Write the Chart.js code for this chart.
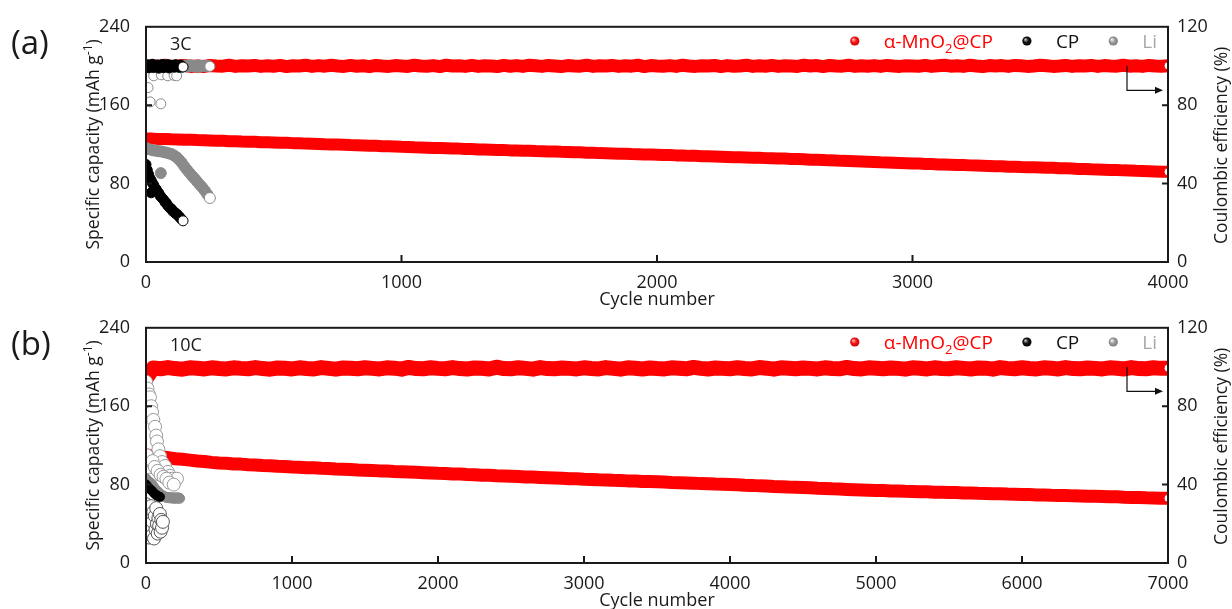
<!DOCTYPE html>
<html><head><meta charset="utf-8">
<script src="https://cdn.jsdelivr.net/npm/chart.js@4.4.1/dist/chart.umd.min.js"></script>
<style>
html,body{margin:0;padding:0;background:#fff;}
#wrap{position:relative;width:1232px;height:609px;overflow:hidden;background:#fff;}
#ca{position:absolute;left:0;top:0;}
#cb{position:absolute;left:0;top:301px;}
</style></head>
<body>
<div id="wrap">
<canvas id="ca" width="1232" height="312"></canvas>
<canvas id="cb" width="1232" height="308"></canvas>
</div>
<script>
// ---------------- DATA: panel (a), 3C ----------------
const xTicksA = [0, 1000, 2000, 3000, 4000];
const capTicks = [0, 80, 160, 240];
const ceTicks = [0, 40, 80, 120];

const cyclesA = [
0,25,50,75,100,125,150,175,200,225,250,275,300,325,350,375,400,425,450,475,500,
525,550,575,600,625,650,675,700,725,750,775,800,825,850,875,900,925,950,975,1000,
1025,1050,1075,1100,1125,1150,1175,1200,1225,1250,1275,1300,1325,1350,1375,1400,1425,1450,1475,1500,
1525,1550,1575,1600,1625,1650,1675,1700,1725,1750,1775,1800,1825,1850,1875,1900,1925,1950,1975,2000,
2025,2050,2075,2100,2125,2150,2175,2200,2225,2250,2275,2300,2325,2350,2375,2400,2425,2450,2475,2500,
2525,2550,2575,2600,2625,2650,2675,2700,2725,2750,2775,2800,2825,2850,2875,2900,2925,2950,2975,3000,
3025,3050,3075,3100,3125,3150,3175,3200,3225,3250,3275,3300,3325,3350,3375,3400,3425,3450,3475,3500,
3525,3550,3575,3600,3625,3650,3675,3700,3725,3750,3775,3800,3825,3850,3875,3900,3925,3950,3975,4000];

const mnCapA = [
126.0,125.9,125.5,125.5,125.2,125.1,124.7,124.7,124.4,124.3,124.0,123.8,123.7,123.3,123.3,122.9,122.8,122.6,122.3,122.3,122.0,
121.7,121.6,121.3,121.2,120.8,120.7,120.5,120.1,120.0,119.8,119.6,119.3,119.2,118.9,118.7,118.6,118.2,118.1,117.8,117.5,
117.4,117.0,116.9,116.7,116.4,116.3,116.0,115.7,115.7,115.3,115.2,114.9,114.8,114.6,114.3,114.2,113.9,113.8,113.6,113.5,
113.2,113.1,112.8,112.7,112.4,112.3,111.9,111.9,111.6,111.5,111.1,111.0,110.8,110.5,110.4,110.1,110.0,109.8,109.6,109.5,
109.2,109.1,108.8,108.7,108.3,108.3,108.0,107.8,107.6,107.5,107.2,107.0,106.8,106.7,106.3,106.3,106.0,105.8,105.6,105.5,
105.2,105.0,104.8,104.4,104.3,104.0,103.7,103.6,103.2,103.1,102.8,102.5,102.3,102.1,101.7,101.6,101.3,101.0,100.8,100.5,
100.4,100.0,99.9,99.6,99.5,99.3,98.9,98.9,98.6,98.4,98.2,98.0,97.7,97.7,97.3,97.2,96.9,96.8,96.6,96.5,
96.2,96.1,95.7,95.6,95.4,95.0,94.9,94.6,94.5,94.2,93.9,93.8,93.5,93.4,93.0,92.9,92.7,92.4,92.2,92.0];

const mnCeA = [
99.8,100.2,99.9,100.4,99.7,100.1,100.3,99.8,100.0,99.7,100.3,100.0,99.9,100.4,99.8,100.1,100.0,100.3,99.8,100.1,99.9,
100.3,99.7,100.1,100.0,100.4,99.8,100.2,99.9,100.4,100.0,99.8,100.3,99.9,100.1,99.7,100.3,100.0,99.8,100.2,100.0,
99.8,100.4,100.0,99.9,100.2,99.7,100.4,100.0,100.1,99.8,100.3,99.8,100.1,100.0,99.7,100.3,99.9,100.2,99.8,100.4,
100.1,99.8,100.3,100.0,99.7,100.2,100.0,99.9,100.4,99.8,100.1,100.0,100.3,99.8,100.1,99.9,100.4,99.7,100.2,100.0,
99.9,100.2,99.8,100.4,100.0,99.8,100.1,100.0,100.3,99.7,100.2,99.9,100.0,100.4,99.8,100.1,99.9,100.3,99.8,100.1,
100.0,99.8,100.4,100.0,100.2,99.7,100.3,100.0,99.9,100.4,99.8,100.1,99.9,100.2,99.8,100.3,100.0,99.8,100.1,100.0,
99.9,100.3,99.8,100.1,100.4,99.9,100.1,99.8,100.4,100.0,99.7,100.2,100.0,100.2,99.8,100.3,100.1,99.8,100.0,100.4,
100.1,99.8,100.0,100.3,99.8,100.1,100.0,100.3,99.8,100.2,100.0,99.9,100.4,99.9,100.1,99.8,100.3,100.0,99.9,100.1];

const cpCapCycA = [20,0,5,10,15,20,25,30,35,40,45,50,55,60,65,70,75,80,85,90,95,100,105,110,115,120,125,130,135,140,145];
const cpCapA = [70.6,99.5,93.8,89.6,85.7,83.4,80.6,78.5,75.7,74.3,71.6,70.4,67.6,66.3,64.6,63.2,60.8,60.1,57.6,56.3,54.7,54.1,51.8,51.2,49.6,49.1,47.6,46.2,44.8,43.3,42.0];

const cpCeCycA = [0,5,10,15,20,25,30,35,40,45,50,55,60,65,70,75,80,85,90,95,100,105,110,115,120,125,130,135,140,145];
const cpCeA = [99.8,100.6,99.1,100.3,99.5,100.9,99.3,100.1,99.7,100.5,98.9,100.2,99.6,100.8,99.2,100.4,99.9,100.7,99.0,100.3,99.6,100.1,99.4,100.6,99.8,100.2,99.3,100.5,99.7,99.5];

const liCapCycA = [58,0,10,20,30,40,50,60,70,80,90,100,110,120,130,140,150,160,170,180,190,200,210,220,230,240,250];
const liCapA = [90.7,116.2,115.1,114.6,113.9,113.5,113.0,112.8,112.1,111.6,110.8,110.1,108.6,106.9,104.2,101.3,97.6,94.2,91.1,88.0,85.2,82.1,79.0,76.2,72.8,69.1,65.3];

const liCeCycA = [0,5,8,10,15,16,20,25,30,30,35,40,45,50,55,58,60,60,65,70,75,80,85,85,90,95,100,105,110,110,115,120,120,125,130,135,140,145,150,155,160,165,170,175,180,185,190,195,200,205,210,215,220,225,230,235,240,245,250];
const liCeA = [99.6,100.4,89.0,99.2,100.6,81.7,99.8,100.3,95.0,99.1,100.5,99.7,100.2,99.4,100.7,80.7,95.5,99.9,100.3,99.2,100.6,99.8,95.0,100.1,99.5,100.7,99.3,100.2,95.2,99.8,100.5,95.0,99.4,100.1,99.7,100.6,99.2,100.3,99.8,100.5,99.4,100.2,99.6,100.7,99.9,100.3,99.5,100.1,99.8,100.6,99.3,100.2,99.9,100.4,99.6,100.1,99.8,100.3,99.8];

// ---------------- DATA: panel (b), 10C ----------------
const xTicksB = [0, 1000, 2000, 3000, 4000, 5000, 6000, 7000];

const cyclesB = [
0,50,100,150,200,250,300,350,400,450,500,
550,600,650,700,750,800,850,900,950,1000,
1050,1100,1150,1200,1250,1300,1350,1400,1450,1500,
1550,1600,1650,1700,1750,1800,1850,1900,1950,2000,
2050,2100,2150,2200,2250,2300,2350,2400,2450,2500,
2550,2600,2650,2700,2750,2800,2850,2900,2950,3000,
3050,3100,3150,3200,3250,3300,3350,3400,3450,3500,
3550,3600,3650,3700,3750,3800,3850,3900,3950,4000,
4050,4100,4150,4200,4250,4300,4350,4400,4450,4500,
4550,4600,4650,4700,4750,4800,4850,4900,4950,5000,
5050,5100,5150,5200,5250,5300,5350,5400,5450,5500,
5550,5600,5650,5700,5750,5800,5850,5900,5950,6000,
6050,6100,6150,6200,6250,6300,6350,6400,6450,6500,
6550,6600,6650,6700,6750,6800,6850,6900,6950,7000];

const mnCapB = [
110.2,109.1,108.3,107.6,106.4,105.8,105.0,104.1,103.6,102.7,102.0,
101.7,101.1,100.9,100.3,100.1,99.5,99.3,98.7,98.5,98.0,
97.8,97.3,97.1,96.6,96.5,96.0,95.7,95.5,95.0,94.7,
94.5,94.0,93.8,93.4,93.2,92.8,92.5,92.2,91.9,91.5,
91.3,90.9,90.7,90.3,90.1,89.6,89.5,89.0,88.8,88.5,
88.3,87.8,87.7,87.3,87.0,86.7,86.5,86.0,85.9,85.5,
85.3,84.9,84.8,84.4,84.2,83.8,83.7,83.2,83.1,82.8,
82.6,82.2,82.0,81.7,81.5,81.0,80.9,80.5,80.3,80.0,
79.8,79.3,79.2,78.7,78.6,78.1,77.9,77.5,77.3,77.0,
76.8,76.3,76.1,75.7,75.5,75.1,74.8,74.5,74.3,74.0,
73.9,73.5,73.5,73.1,73.0,72.7,72.6,72.3,72.2,72.0,
71.9,71.5,71.5,71.1,71.0,70.7,70.6,70.3,70.2,70.0,
69.9,69.5,69.5,69.1,69.0,68.8,68.5,68.4,68.1,68.0,
67.9,67.5,67.5,67.1,66.9,66.8,66.5,66.4,66.1,66.0];

const mnCeB = [
94.0,99.5,99.1,99.7,99.2,98.9,99.6,99.4,99.0,99.6,99.2,
99.0,99.6,99.3,99.1,99.7,99.2,98.9,99.5,99.4,99.0,
99.6,99.2,99.0,99.7,99.3,98.9,99.5,99.4,99.1,99.6,
99.3,99.0,99.6,99.4,98.9,99.8,99.2,99.1,99.6,99.3,
99.1,99.7,99.2,99.0,99.5,99.4,99.0,99.9,99.2,99.1,
99.6,99.3,98.9,99.7,99.2,99.1,99.5,99.3,99.0,99.6,
99.2,99.0,99.7,99.3,98.9,99.6,99.4,99.0,99.5,99.2,
99.0,99.6,99.4,99.1,99.8,99.3,99.0,99.5,99.3,99.1,
99.6,99.2,99.0,99.7,99.4,98.9,99.6,99.4,99.1,99.5,
99.3,99.0,99.6,99.2,99.1,99.8,99.2,99.0,99.6,99.4,
99.1,99.5,99.3,98.9,99.6,99.4,99.0,99.6,99.2,99.1,
99.6,99.3,99.0,99.5,99.4,98.9,99.7,99.3,99.1,99.6,
99.2,99.0,99.6,99.4,99.0,99.7,99.2,99.1,99.5,99.3,
99.0,99.6,99.4,99.0,99.7,99.2,99.1,99.6,99.3,99.4];

const cpCapCycB = [0,8,16,24,32,40,48,56,64,72,80,88,96];
const cpCapB = [80.2,78.4,77.3,75.8,74.9,73.7,72.5,71.0,70.1,69.0,68.5,67.8,67.5];

const cpCeCycB = [0,5,10,15,20,25,30,35,40,45,50,55,60,65,70,75,80,85,90,95,100,105,110,116];
const cpCeB = [30,22,15,27,13,25,18,29,14,21,26,12.5,24,17,28,20,15,23,19,25,16,22,18,21];

const liCapCycB = [0,10,20,30,40,50,60,70,80,90,100,110,120,130,140,150,160,170,180,190,200,210,220,230];
const liCapB = [86,84,83,81,79,78,76,74,73,71,70,69,68,67.5,67,67,66.5,66.5,66.5,66,66.5,66,66.5,66];

const liCeCycB = [0,10,20,27,35,41,50,62,70,75,85,96,110,130,150,164,180,199,212,5,15,20,25,30,45,60,80,100,120,140,160,190];
const liCeB = [92.5,89,86,84.5,80,77,73,69.5,65,62,58,54.5,51.5,49.5,46.5,44.5,43,42,43,55,50,46,42.5,40,52,49,47,45,44,43,41,40];

// ---------------- styling / helpers ----------------
const FONT = "'Open Sans', 'DejaVu Sans', sans-serif";
Chart.defaults.font.family = FONT;
const TXT = '#1a1a1a';
const RED = '#ff0000', BLACK = '#000000', GRAY = '#8a8a8a';

function pts(cyc, vals) {
  const n = Math.min(cyc.length, vals.length), out = [];
  for (let i = 0; i < n; i++) out.push({x: cyc[i], y: vals[i]});
  return out;
}
function lastWhite(color) {
  return (c) => (c.dataIndex === c.dataset.data.length - 1 ? '#ffffff' : color);
}
// filled markers; optional thick connecting band so the dense cloud reads as continuous
function filled(label, cyc, vals, axis, color, r, order, endWhite, band) {
  return {label, data: pts(cyc, vals), yAxisID: axis, order,
    showLine: !!band, borderColor: color, borderWidth: band || 0, borderJoinStyle: 'round', borderCapStyle: 'round',
    pointRadius: r, pointBorderWidth: 1, pointBorderColor: color,
    pointBackgroundColor: endWhite ? lastWhite(color) : color};
}
function open(label, cyc, vals, axis, color, r, order) {
  return {label, data: pts(cyc, vals), yAxisID: axis, order, showLine: false,
    pointRadius: r, pointBorderWidth: 1, pointBorderColor: color, pointBackgroundColor: '#ffffff'};
}
// filled markers, but the scattered low outliers are drawn hollow
function mixed(label, cyc, vals, axis, color, r, order, thr) {
  return {label, data: pts(cyc, vals), yAxisID: axis, order, showLine: false,
    pointRadius: r, pointBorderWidth: 1, pointBorderColor: color,
    pointBackgroundColor: (c) => (c.dataIndex === c.dataset.data.length - 1 || c.raw.y < thr) ? '#ffffff' : color};
}

function rich(ctx, parts, x, y, align, rot) {
  ctx.save();
  ctx.translate(x, y); ctx.rotate(rot || 0);
  ctx.textAlign = 'left'; ctx.textBaseline = 'alphabetic';
  let total = 0;
  parts.forEach(p => { ctx.font = p.size + 'px ' + FONT; p.w = ctx.measureText(p.t).width; total += p.w; });
  let cx = align === 'center' ? -total / 2 : (align === 'right' ? -total : 0);
  parts.forEach(p => { ctx.font = p.size + 'px ' + FONT; ctx.fillStyle = p.color || TXT; ctx.fillText(p.t, cx, p.dy || 0); cx += p.w; });
  ctx.restore();
  return total;
}
function measure(ctx, parts) {
  let t = 0;
  parts.forEach(p => { ctx.font = p.size + 'px ' + FONT; t += ctx.measureText(p.t).width; });
  return t;
}
function sphere(ctx, x, y, r, hi, mid, edge) {
  const g = ctx.createRadialGradient(x - r * 0.35, y - r * 0.35, r * 0.1, x, y, r);
  g.addColorStop(0, hi); g.addColorStop(0.45, mid); g.addColorStop(1, edge);
  ctx.fillStyle = g; ctx.beginPath(); ctx.arc(x, y, r, 0, Math.PI * 2); ctx.fill();
}

const legendItems = [
  {parts: [{t: 'α-MnO', size: 19, color: RED}, {t: '2', size: 13, dy: 5, color: RED}, {t: '@CP', size: 19, color: RED}], ball: ['#ffb3b3', '#ff1a1a', '#c80000']},
  {parts: [{t: 'CP', size: 19, color: '#111'}], ball: ['#bdbdbd', '#1a1a1a', '#000000']},
  {parts: [{t: 'Li', size: 19, color: '#a8a8a8'}], ball: ['#f2f2f2', '#a0a0a0', '#7a7a7a']}
];

const decor = {
  id: 'decor',
  afterDatasetsDraw(chart, args, o) {
    const ctx = chart.ctx, a = chart.chartArea;
    const sx = chart.scales.x, sy = chart.scales.y, sy1 = chart.scales.y1;
    ctx.save();
    // frame
    ctx.strokeStyle = '#1a1a1a'; ctx.lineWidth = 2;
    ctx.strokeRect(a.left, a.top, a.right - a.left, a.bottom - a.top);
    // inward ticks
    ctx.beginPath();
    sx.ticks.forEach(t => { const p = sx.getPixelForValue(t.value); if (p > a.left + 3 && p < a.right - 3) { ctx.moveTo(p, a.bottom); ctx.lineTo(p, a.bottom - 7); } });
    sy.ticks.forEach(t => { const p = sy.getPixelForValue(t.value); if (p > a.top + 3 && p < a.bottom - 3) { ctx.moveTo(a.left, p); ctx.lineTo(a.left + 6, p); } });
    sy1.ticks.forEach(t => { const p = sy1.getPixelForValue(t.value); if (p > a.top + 3 && p < a.bottom - 3) { ctx.moveTo(a.right, p); ctx.lineTo(a.right - 6, p); } });
    ctx.stroke();
    // arrow pointing to right axis
    ctx.lineWidth = 1.2; ctx.strokeStyle = '#111'; ctx.fillStyle = '#111';
    const ax = a.right - 41, ay0 = a.top + 39, ay1 = a.top + 63.5;
    ctx.beginPath(); ctx.moveTo(ax, ay0); ctx.lineTo(ax, ay1); ctx.lineTo(a.right - 11, ay1); ctx.stroke();
    ctx.beginPath(); ctx.moveTo(a.right - 5, ay1); ctx.lineTo(a.right - 13, ay1 - 3.5); ctx.lineTo(a.right - 13, ay1 + 3.5); ctx.closePath(); ctx.fill();
    // panel label and rate
    rich(ctx, [{t: o.panel, size: 33}], 11, 54, 'left');
    rich(ctx, [{t: o.rate, size: 18}], 170, 50, 'left');
    // legend, laid out from the right
    let end = a.right - 11;
    for (let i = legendItems.length - 1; i >= 0; i--) {
      const it = legendItems[i];
      const w = measure(ctx, it.parts);
      const start = end - w;
      rich(ctx, it.parts, start, 48, 'left');
      const bx = start - 29;
      sphere(ctx, bx, 41, 4.6, it.ball[0], it.ball[1], it.ball[2]);
      end = bx - 34;
    }
    // axis titles
    const mid = (a.top + a.bottom) / 2;
    rich(ctx, [{t: 'Specific capacity (mAh g', size: 17.5}, {t: '-1', size: 12, dy: -7}, {t: ')', size: 17.5}], 99, mid, 'center', -Math.PI / 2);
    rich(ctx, [{t: 'Coulombic efficiency (%)', size: 17.5}], 1227, mid + 1, 'center', -Math.PI / 2);
    rich(ctx, [{t: 'Cycle number', size: 18}], (a.left + a.right) / 2, o.xTitleY, 'center');
    ctx.restore();
  }
};

function makeOptions(xMax, xStep, xHeight, meta) {
  const tickFont = {size: 18, family: FONT};
  const plain = (v) => String(v);
  return {
    responsive: false, animation: false, devicePixelRatio: 1, events: [],
    layout: {padding: {top: 24, left: 0, right: 0, bottom: 0}},
    plugins: {legend: {display: false}, tooltip: {enabled: false}, decor: meta},
    scales: {
      x: {type: 'linear', position: 'bottom', min: 0, max: xMax,
        ticks: {stepSize: xStep, color: TXT, font: tickFont, padding: 10, maxRotation: 0, autoSkip: false, callback: plain},
        grid: {display: false, drawTicks: false}, border: {display: false},
        afterFit(s) { s.height = xHeight; }},
      y: {type: 'linear', position: 'left', min: 0, max: 240,
        ticks: {stepSize: 80, color: TXT, font: tickFont, padding: 16, callback: plain},
        grid: {display: false, drawTicks: false}, border: {display: false},
        afterFit(s) { s.width = 146; }},
      y1: {type: 'linear', position: 'right', min: 0, max: 120,
        ticks: {stepSize: 40, color: TXT, font: tickFont, padding: 9, callback: plain},
        grid: {display: false, drawTicks: false}, border: {display: false},
        afterFit(s) { s.width = 64; }}
    }
  };
}

new Chart(document.getElementById('ca'), {
  type: 'scatter',
  data: {datasets: [
    filled('CP CE', cpCeCycA, cpCeA, 'y1', BLACK, 5, 0, true, 0),
    filled('CP', cpCapCycA, cpCapA, 'y', BLACK, 5, 1, true, 0),
    mixed('Li CE', liCeCycA, liCeA, 'y1', GRAY, 5, 2, 97),
    filled('Li', liCapCycA, liCapA, 'y', GRAY, 5.5, 3, true, 0),
    filled('α-MnO2@CP CE', cyclesA, mnCeA, 'y1', RED, 4, 4, true, 13),
    filled('α-MnO2@CP', cyclesA, mnCapA, 'y', RED, 4, 5, true, 12)
  ]},
  options: makeOptions(4000, 1000, 50, {panel: '(a)', rate: '3C', xTitleY: 305}),
  plugins: [decor]
});

new Chart(document.getElementById('cb'), {
  type: 'scatter',
  data: {datasets: [
    filled('CP', cpCapCycB, cpCapB, 'y', BLACK, 4.5, 0, false, 0),
    filled('Li', liCapCycB, liCapB, 'y', GRAY, 5, 1, false, 0),
    open('Li CE', liCeCycB, liCeB, 'y1', '#9a9a9a', 6.5, 2),
    open('CP CE', cpCeCycB, cpCeB, 'y1', '#555555', 6.5, 3),
    filled('α-MnO2@CP CE', cyclesB, mnCeB, 'y1', RED, 4, 4, true, 15),
    filled('α-MnO2@CP', cyclesB, mnCapB, 'y', RED, 4, 5, true, 13)
  ]},
  options: makeOptions(7000, 1000, 46, {panel: '(b)', rate: '10C', xTitleY: 305}),
  plugins: [decor]
});
</script>
</body></html>
